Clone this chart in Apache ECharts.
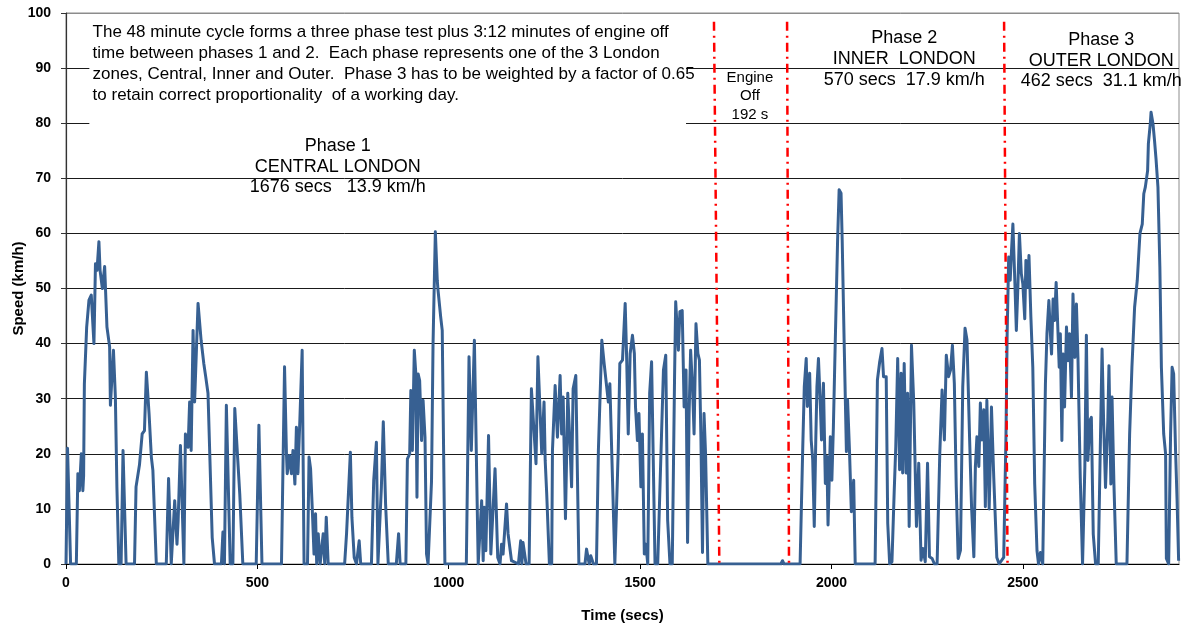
<!DOCTYPE html>
<html>
<head>
<meta charset="utf-8">
<title>London drive cycle – speed trace</title>
<script src="https://cdn.jsdelivr.net/npm/echarts@6/dist/echarts.min.js"></script>
<style>
  html, body { margin: 0; padding: 0; background: #fff; }
  #chart { width: 1188px; height: 627px; }
</style>
</head>
<body>
<div id="chart"></div>
<script>
// ---- Speed trace, [time (s), speed (km/h)] per part of the cycle ----
const phase1 = [
  [0,0],[4,21],[12,0],[27,0],[31,16.4],[35,13.3],[40,20],[44,13.3],[46,16],[48,32.7],[54,43],[60,47.9],[66,48.8],
  [73,40],[77,54.5],[81,53.3],[86,58.5],[89,53.3],[95,50],[101,54],[107,43],[114,39.4],[116,28.8],[124,38.8],
  [129,30.3],[133,14],[138,0],[144,0],[149,20.6],[157,0],[179,0],[183,14],[192,18],[199,23.6],[205,24.2],
  [210,34.8],[217,27.3],[223,19.4],[227,17],[236,0],[262,0],[268,15.5],[275,0],[279,0],[284,11.5],[290,3.6],
  [293,7.9],[299,21.5],[308,0],[312,23.6],[319,21.2],[323,29.4],[327,20.6],[332,42.4],[336,29.4],[345,47.3],
  [353,40.6],[360,36.4],[365,34],[371,31],[382,4.8],[388,0],[406,0],[410,5.8],[414,0],[419,28.8],[429,0],
  [436,0],[441,28.2],[454,12.7],[462,0],
  [497,0],[504,25.2],[512,0],[563,0],[571,35.8],[576,20],[578,16.4],[584,19.7],[589,16.4],[593,20.6],[598,14.5],
  [602,24.8],[606,16.4],[611,26.1],[617,38.8],[622,0],[631,0],[635,19.4],[639,17.3],[644,9.1],[648,1.8],
  [652,9.1],[655,0],[659,5.5],[664,0],[672,5.5],[676,0],[680,8.5],[685,0],[728,0],[733,5.5],[737,5.5],
  [743,20.3],[747,8.5],[753,1.2],[759,0],[766,4.2],[770,0],[798,0],[804,15.2],[811,22.1],[815,0],[824,13.9],
  [829,25.8],[835,10.9],[842,0],[863,0],[869,5.5],[873,0],[888,0],[892,19.1],[898,20],[901,31.5],[905,20.6],
  [910,38.8],[914,34.5],[917,12.1],[920,34.5],[924,33.3],[929,22.4],[933,29.7],[938,23],[942,1.8],[946,0],
  [951,0],[955,15],[959,40],[965,60.3],[970,51.5],[972,49.7],[979,44.8],[983,42.4],[990,0],[1046,0],
  [1053,37.6],[1059,20.6],[1067,40.6],[1077,0],[1081,0],[1086,11.5],[1090,0.6],[1093,10.3],[1097,2.4],
  [1104,23.3],[1110,1.8],[1121,17.3],[1128,1.2],[1134,0],[1138,3.6],[1142,1.8],[1151,10.9],[1155,5.5],
  [1164,0.6],[1182,0],[1188,4.2],[1191,0],[1194,3.9],[1202,0],[1210,0],[1216,31.8],[1228,18.2],[1233,37.6],
  [1243,20],[1249,29.4],[1252,18.8],[1256,12.7],[1263,0],[1269,0],[1271,20.6],[1278,32.4],[1284,23],
  [1291,34.2],[1295,23.6],[1299,30.3],[1305,8.2],[1311,31],[1317,21.2],[1321,14],[1325,31.8],[1332,34.2],
  [1340,0],[1356,0],[1360,2.7],[1367,0],[1371,1.5],[1378,0],[1386,0],[1391,20.6],[1400,40.6],[1406,36.4],
  [1411,36.7],[1417,29.4],[1421,32.7],[1426,20],[1434,0],[1439,0],[1443,21],[1447,36.4],
  [1454,37],[1461,47.3],[1465,37],[1469,23.6],[1474,38.2],[1480,41.5],[1485,38.2],[1488,28.5],[1493,22.4],
  [1497,27.3],[1502,14],[1506,23.6],[1511,1.8],[1515,3.6],[1520,0],[1525,31],[1530,36.7],[1539,0],[1546,0],
  [1556,23.6],[1561,35.2],[1567,37.9],[1572,7.9],[1578,0],[1584,0],[1590,33.9],[1593,47.6],[1600,38.8],
  [1604,45.8],[1610,46],[1615,28.5],[1620,35.2],[1624,3.9],[1628,27.3],[1632,38.8],[1637,32.1],[1641,23.6],
  [1646,43.6],[1651,38.2],[1655,37],[1659,22.4],[1663,2.1],[1667,27.3],[1671,20],[1677,0]
];

const engineOff = [[1677,0],[1868,0]];

const phase2 = [
  [1872,0.6],[1876,0],[1918,0],[1925,21.3],[1929,32.2],[1934,37.3],[1937,28.6],[1943,34.6],[1947,22.5],
  [1951,18.9],[1955,6.8],[1959,22.5],[1962,32.2],[1966,37.3],[1971,28.6],[1974,22.5],[1979,32.8],[1984,14.6],
  [1988,19.5],[1991,7.1],[1997,23.1],[2001,15.2],[2005,24.9],[2010,40.7],[2016,58.8],[2020,67.9],[2025,67.3],
  [2028,58.8],[2033,40.7],[2039,20.4],[2042,29.8],[2047,20.7],[2052,9.5],[2058,15.2],[2062,0],[2114,0],
  [2120,33.4],[2126,36.7],[2132,39.1],[2136,34],[2143,34],[2147,7.4],[2152,0],[2158,0.4],[2164,13.4],
  [2168,21.3],[2173,37.3],[2178,17.1],[2182,34.6],[2186,16.5],[2190,36.4],[2195,16.5],[2199,31],[2203,6.8],
  [2209,39.7],[2215,29.2],[2222,6.8],[2228,18.3],[2234,0.7],[2239,2.8],[2245,0.4],[2251,18.3],[2256,1.3],
  [2263,1],[2269,0],[2276,0],[2283,20.1],[2289,31.6],[2295,22.5],[2300,37.9],[2306,34],[2311,35.2],
  [2316,39.7],[2321,32.8],[2326,14],[2331,1],[2337,2.5],[2343,32.2],[2349,42.8],[2354,40.7],[2361,22.5],
  [2366,10.4],[2372,1.3],[2376,17.7],[2380,23.1],[2385,17.7],[2389,29.2],[2393,22.5],[2398,28],[2402,10.4],
  [2406,29.7],[2412,10],[2418,28.5],[2424,15.7],[2432,1.2],[2438,0]
];

const phase3 = [
  [2441,0],[2450,1.2],[2456,23.6],[2459,41.8],[2463,55.7],[2467,51.5],[2470,56.3],[2474,61.7],[2479,51.5],
  [2483,42.4],[2487,50.2],[2491,60],[2496,52.7],[2500,50.8],[2505,44.5],[2508,55.1],[2513,50.2],[2516,56],
  [2521,44.8],[2526,35.7],[2531,14.5],[2537,2.4],[2541,0],[2546,2.1],[2552,0],[2559,32.7],[2563,41.8],
  [2568,47.8],[2572,41.8],[2575,38.1],[2579,48.1],[2583,44.2],[2587,51.1],[2591,43.6],[2595,35.7],[2598,41.8],
  [2602,22.4],[2605,38.1],[2609,28.5],[2614,43],[2618,36.9],[2622,41.8],[2627,30.3],[2631,49],[2636,37.5],
  [2640,47.2],[2644,37.5],[2650,15.7],[2656,0],[2662,17.6],[2666,41.5],[2670,18.8],[2675,26],[2679,26.6],
  [2684,5.4],[2690,0],[2697,0],[2703,23.6],[2707,39],[2711,26],[2716,13.9],[2722,26],[2725,36],[2730,14.5],
  [2733,30.3],[2738,14.5],[2744,0],[2772,0],[2779,23.6],[2785,35.7],[2792,46.6],[2799,51.5],[2806,60],
  [2812,61.7],[2816,67.2],[2820,68.4],[2826,71.4],[2828,76.3],[2833,79.9],[2835,82],[2840,79.9],[2844,76.9],
  [2848,73.5],[2853,68.4],[2858,53.9],[2862,35.7],[2868,23.6],[2873,20],[2875,1],[2881,0],[2886,23.6],
  [2890,35.7],[2894,34.5],[2899,20.6],[2903,11.5],[2907,0.6]
];

// Phase boundaries (time at top, time at bottom) of the hand-drawn dividers
const boundaries = [[1693,1707],[1884,1889],[2451,2460]];

// Axis ticks
const xTicks = [0, 500, 1000, 1500, 2000, 2500];
const yTicks = [0, 10, 20, 30, 40, 50, 60, 70, 80, 90, 100];
const cycleEnd = 2908;

// Annotation texts
const noteText = [
  'The 48 minute cycle forms a three phase test plus 3:12 minutes of engine off',
  'time between phases 1 and 2.  Each phase represents one of the 3 London',
  'zones, Central, Inner and Outer.  Phase 3 has to be weighted by a factor of 0.65',
  'to retain correct proportionality  of a working day.'
];
const phase1Text = ['Phase 1', 'CENTRAL LONDON', '1676 secs   13.9 km/h'];
const engineText = ['Engine', 'Off', '192 s'];
const phase2Text = ['Phase 2', 'INNER  LONDON', '570 secs  17.9 km/h'];
const phase3Text = ['Phase 3', 'OUTER LONDON', '462 secs  31.1 km/h'];

// ---- Chart ----
const FONT = '"Liberation Sans", Arial, sans-serif';
const trace = phase1.concat(engineOff, phase2, phase3);
const chart = echarts.init(document.getElementById('chart'), null, { renderer: 'canvas' });

const gridLineColors = yTicks.map(v => (v === yTicks[yTicks.length - 1] ? '#8c8c8c' : '#1a1a1a'));

chart.setOption({
  animation: false,
  backgroundColor: '#fff',
  grid: {
    left: 66, right: 9, top: 13, bottom: 63,
    outerBoundsMode: 'none',
    show: true, borderColor: '#8c8c8c', borderWidth: 1
  },
  xAxis: {
    type: 'value', min: 0, max: cycleEnd, interval: 500,
    name: 'Time (secs)', nameLocation: 'middle', nameGap: 44,
    nameTextStyle: { fontFamily: FONT, fontWeight: 'bold', fontSize: 15, color: '#000' },
    axisLine: { show: true, onZero: false, lineStyle: { color: '#000', width: 1.2 } },
    axisTick: { show: true, inside: false, length: 5, customValues: xTicks, lineStyle: { color: '#000' } },
    axisLabel: {
      customValues: xTicks, fontFamily: FONT, fontWeight: 'bold', fontSize: 14, color: '#000', margin: 12,
      formatter: v => String(v)
    },
    splitLine: { show: false }
  },
  yAxis: {
    type: 'value', min: 0, max: 100, interval: 10,
    name: 'Speed (km/h)', nameLocation: 'middle', nameGap: 40, nameRotate: 90,
    nameMoveOverlap: false,
    nameTextStyle: { fontFamily: FONT, fontWeight: 'bold', fontSize: 15, color: '#000' },
    axisLine: { show: true, lineStyle: { color: '#333', width: 1.2 } },
    axisTick: { show: true, inside: false, length: 5, lineStyle: { color: '#333' } },
    axisLabel: { fontFamily: FONT, fontWeight: 'bold', fontSize: 14, color: '#000', margin: 15 },
    splitLine: { show: true, lineStyle: { color: gridLineColors, width: 1 } }
  },
  series: [{
    type: 'line',
    data: trace,
    showSymbol: false,
    symbol: 'none',
    lineStyle: { color: '#376092', width: 3, join: 'round' },
    z: 3,
    markLine: {
      silent: true,
      symbol: ['none', 'none'],
      label: { show: false },
      lineStyle: { color: '#ff0000', width: 2.5, type: [9, 5, 2, 5] },
      data: boundaries.map(b => [{ coord: [b[0], 98.4] }, { coord: [b[1], 0] }])
    }
  }]
});

// ---- Annotations anchored to data coordinates ----
const toPx = (t, v) => chart.convertToPixel({ gridIndex: 0 }, [t, v]);

function block(lines, t, v, size, lineHeight, align) {
  const p = toPx(t, v);
  return {
    type: 'text', x: p[0], y: p[1], z: 20,
    style: {
      text: lines.join('\n'),
      font: size + 'px ' + FONT,
      fill: '#000',
      align: align || 'center',
      verticalAlign: 'middle',
      lineHeight: lineHeight
    }
  };
}

const boxA = toPx(61, 99.4);
const boxB = toPx(1620, 79.3);

chart.setOption({
  graphic: [
    {
      type: 'rect', z: 10,
      shape: { x: boxA[0], y: boxA[1], width: boxB[0] - boxA[0], height: boxB[1] - boxA[1] },
      style: { fill: '#fff' }
    },
    block(noteText, 69.5, 90.8, 17, 21, 'left'),
    block(phase1Text, 710, 72.05, 18, 20.5),
    block(engineText, 1787, 84.9, 15, 18.5),
    block(phase2Text, 2190, 91.65, 18, 21),
    block(phase3Text, 2705, 91.3, 18, 20.5)
  ]
});
</script>
</body>
</html>
